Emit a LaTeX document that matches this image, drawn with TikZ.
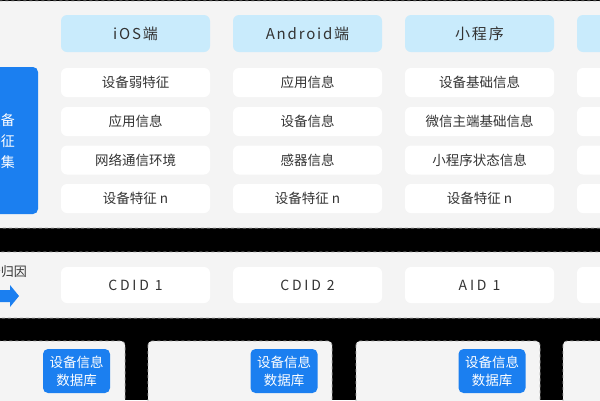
\documentclass[tikz,border=0pt]{standalone}
\usepackage{fontspec}
\setmainfont{Noto Sans CJK SC}
\newfontfamily\headfont[LetterSpace=12]{Noto Sans CJK SC}
\newfontfamily\idfont[LetterSpace=20]{Noto Sans CJK SC}
\usepackage{tikz}

\definecolor{Panelgray}{HTML}{F4F4F4}
\definecolor{Headblue}{HTML}{C9EBFC}
\definecolor{Darkblue}{HTML}{1B7FF0}
\definecolor{Textgray}{HTML}{333333}
\definecolor{Linegray}{HTML}{A8A8A8}

\tikzstyle{Panel}=[fill=Panelgray, draw=Linegray, dashed, line width=.8pt, rounded corners=4pt]
\tikzstyle{Head}=[fill=Headblue, rounded corners=6pt, minimum width=149pt, minimum height=37pt, text=Textgray, font=\headfont\fontsize{15}{18}\selectfont]
\tikzstyle{Item}=[fill=white, rounded corners=6pt, minimum width=149pt, minimum height=29pt, text=Textgray, font=\fontsize{13.5}{16}\selectfont]
\tikzstyle{Id}=[fill=white, rounded corners=6pt, minimum width=149pt, minimum height=36pt, text=Textgray, font=\idfont\fontsize{14}{17}\selectfont]
\tikzstyle{Base}=[fill=Darkblue, rounded corners=5pt, minimum width=67pt, minimum height=44pt, text=white, align=center, font=\fontsize{13.5}{18}\selectfont]

\begin{document}
\begin{tikzpicture}[x=1pt, y=-1pt]

\useasboundingbox (0,0) rectangle (600,400);
\clip (0,0) rectangle (600,400);
\fill (0,0) rectangle (600,400);

% panels
\draw[Panel] (-10,1) rectangle (620,228);
\draw[Panel] (-10,252) rectangle (620,318);
\draw[Panel] (-10,341) rectangle (125,420);
\draw[Panel] (148,341) rectangle (332,420);
\draw[Panel] (356,341) rectangle (540,420);
\draw[Panel] (563,341) rectangle (620,420);

% collection
\node[fill=Darkblue, rounded corners=5pt, minimum width=58pt, minimum height=147pt] (collect) at (9,140.5) {};
\node[text=white, align=center, font=\fontsize{14}{21}\selectfont] (collecttext) at (1,141) {设备\\特征\\采集};

\node[Head] (ios) at (135.5,33.5) {iOS端};
\node[Head] (android) at (307.5,33.5) {Android端};
\node[Head] (mini) at (479.5,33.5) {小程序};
\node[Head] (other) at (651.5,33.5) {};

\node[Item] (ios1) at (135.5,82.5) {设备弱特征};
\node[Item] (ios2) at (135.5,121.5) {应用信息};
\node[Item] (ios3) at (135.5,160) {网络通信环境};
\node[Item] (ios4) at (135.5,198.5) {设备特征 n};

\node[Item] (android1) at (307.5,82.5) {应用信息};
\node[Item] (android2) at (307.5,121.5) {设备信息};
\node[Item] (android3) at (307.5,160) {感器信息};
\node[Item] (android4) at (307.5,198.5) {设备特征 n};

\node[Item] (mini1) at (479.5,82.5) {设备基础信息};
\node[Item] (mini2) at (479.5,121.5) {微信主端基础信息};
\node[Item] (mini3) at (479.5,160) {小程序状态信息};
\node[Item] (mini4) at (479.5,198.5) {设备特征 n};

\node[Item] (other1) at (651.5,82.5) {};
\node[Item] (other2) at (651.5,121.5) {};
\node[Item] (other3) at (651.5,160) {};
\node[Item] (other4) at (651.5,198.5) {};

% attribution
\node[anchor=east, text=Textgray, font=\fontsize{13}{16}\selectfont, inner sep=0pt] (attrib) at (27,272) {设备归因};
\fill[Darkblue] (-5,290) -- (10,290) -- (10,285) -- (19,296) -- (10,307) -- (10,302) -- (-5,302) -- cycle;

\node[Id] (cdid1) at (135.5,285) {CDID 1};
\node[Id] (cdid2) at (307.5,285) {CDID 2};
\node[Id] (aid1) at (479.5,285) {AID 1};
\node[Id] (id4) at (651.5,285) {};

% databases
\node[Base] (base1) at (76.5,371) {设备信息\\数据库};
\node[Base] (base2) at (284,371) {设备信息\\数据库};
\node[Base] (base3) at (492,371) {设备信息\\数据库};

\end{tikzpicture}
\end{document}
